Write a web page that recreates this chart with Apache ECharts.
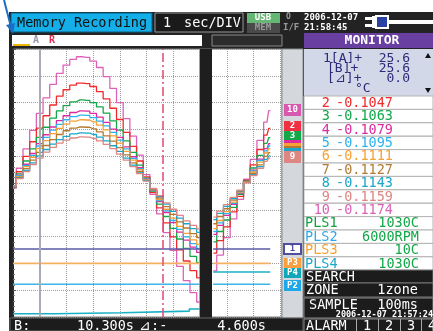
<!DOCTYPE html>
<html>
<head>
<meta charset="utf-8">
<script src="https://cdn.jsdelivr.net/npm/echarts@6/dist/echarts.min.js"></script>
<style>
  html, body { margin: 0; padding: 0; background: #fff; }
  /* dark instrument frame behind the transparent chart canvas */
  #frame { position: absolute; left: 9px; top: 12px; width: 424px; height: 319px; background: #232323; }
  #chart { position: absolute; left: 0; top: 0; width: 433px; height: 331px; }
</style>
</head>
<body>
<div id="frame"></div>
<div id="chart"></div>
<script>
// time in divisions (1 sec/DIV) for the two waveform windows
var timeLeft = [0, 0.25, 0.5, 0.75, 1, 1.25, 1.5, 1.75, 2, 2.25, 2.5, 2.75, 3, 3.25, 3.5,
  3.75, 4, 4.25, 4.5, 4.75, 5, 5.25, 5.5, 5.75, 6, 6.25, 6.5, 6.75, 7];
var timeRight = [0.5, 0.75, 1, 1.25, 1.5, 1.75, 2, 2.25, 2.5, 2.625];

// analog channels, values in divisions from the bottom of the screen
var ch10Left = [4.81, 5.55, 6.27, 6.96, 7.60, 8.18, 8.68, 9.09, 9.40, 9.61, 9.71, 9.69, 9.55, 9.31, 8.97, 8.53, 8.00, 7.40, 6.75, 6.04, 5.31, 4.58, 3.85, 3.15, 2.49, 1.89, 1.36, 0.91, 0.56];
var ch2Left = [4.84, 5.42, 5.99, 6.54, 7.05, 7.51, 7.91, 8.24, 8.48, 8.65, 8.73, 8.71, 8.60, 8.41, 8.14, 7.79, 7.37, 6.89, 6.37, 5.82, 5.23, 4.65, 4.07, 3.51, 2.99, 2.51, 2.09, 1.73, 1.46];
var ch3Left = [4.85, 5.34, 5.82, 6.27, 6.70, 7.08, 7.42, 7.69, 7.89, 8.03, 8.10, 8.08, 8.00, 7.84, 7.61, 7.32, 6.97, 6.57, 6.14, 5.67, 5.18, 4.70, 4.21, 3.75, 3.31, 2.91, 2.56, 2.26, 2.03];
var ch4Left = [4.86, 5.29, 5.70, 6.10, 6.47, 6.80, 7.09, 7.33, 7.51, 7.63, 7.69, 7.68, 7.60, 7.46, 7.26, 7.01, 6.70, 6.35, 5.98, 5.57, 5.15, 4.73, 4.31, 3.90, 3.52, 3.17, 2.87, 2.61, 2.41];
var ch5Left = [4.87, 5.27, 5.66, 6.03, 6.38, 6.70, 6.97, 7.19, 7.36, 7.48, 7.53, 7.52, 7.44, 7.31, 7.13, 6.89, 6.60, 6.27, 5.92, 5.54, 5.14, 4.74, 4.34, 3.96, 3.60, 3.27, 2.99, 2.74, 2.55];
var ch6Left = [4.87, 5.24, 5.61, 5.96, 6.29, 6.58, 6.84, 7.04, 7.20, 7.31, 7.36, 7.35, 7.28, 7.16, 6.98, 6.76, 6.49, 6.18, 5.85, 5.50, 5.12, 4.75, 4.38, 4.02, 3.69, 3.38, 3.12, 2.88, 2.71];
var ch7Left = [4.88, 5.21, 5.54, 5.85, 6.14, 6.40, 6.62, 6.81, 6.95, 7.05, 7.09, 7.08, 7.02, 6.91, 6.76, 6.56, 6.32, 6.05, 5.75, 5.43, 5.10, 4.77, 4.44, 4.12, 3.83, 3.55, 3.32, 3.11, 2.96];
var ch8Left = [4.88, 5.18, 5.47, 5.75, 6.01, 6.25, 6.45, 6.62, 6.74, 6.83, 6.87, 6.86, 6.81, 6.71, 6.57, 6.39, 6.18, 5.93, 5.67, 5.38, 5.09, 4.79, 4.49, 4.21, 3.94, 3.69, 3.48, 3.30, 3.16];
var ch9Left = [4.89, 5.16, 5.43, 5.69, 5.93, 6.15, 6.33, 6.49, 6.60, 6.68, 6.72, 6.71, 6.66, 6.57, 6.44, 6.28, 6.08, 5.85, 5.61, 5.35, 5.07, 4.80, 4.53, 4.26, 4.02, 3.79, 3.59, 3.42, 3.29];

var ch10Right = [1.72, 2.31, 2.96, 3.66, 4.39, 5.14, 5.88, 6.59, 7.27, 7.70];
var ch2Right = [2.38, 2.85, 3.36, 3.92, 4.50, 5.10, 5.68, 6.25, 6.79, 7.04];
var ch3Right = [2.80, 3.19, 3.62, 4.09, 4.58, 5.07, 5.56, 6.03, 6.48, 6.69];
var ch4Right = [3.08, 3.42, 3.79, 4.20, 4.62, 5.05, 5.48, 5.89, 6.28, 6.47];
var ch5Right = [3.19, 3.51, 3.86, 4.24, 4.64, 5.04, 5.45, 5.84, 6.20, 6.38];
var ch6Right = [3.30, 3.60, 3.93, 4.29, 4.66, 5.04, 5.41, 5.78, 6.12, 6.28];
var ch7Right = [3.48, 3.75, 4.04, 4.36, 4.69, 5.03, 5.36, 5.68, 5.99, 6.13];
var ch8Right = [3.63, 3.87, 4.13, 4.42, 4.71, 5.02, 5.31, 5.61, 5.88, 6.01];
var ch9Right = [3.73, 3.95, 4.19, 4.46, 4.73, 5.01, 5.28, 5.55, 5.81, 5.93];

// pulse channels
var pulse1Level = 2.54;
var pulse3Level = 2.0;
var pulse2Level = 1.22;
var pulse4Time = [0, 1.57, 4.08, 6.6, 7];
var pulse4Left = [0.12, 0.16, 0.22, 0.3, 0.3];
var pulse4Right = 1.68;

// cursors A / B
var cursorA = 1.0;
var cursorB = 5.62;

// monitor panel texts
var monitorCh = ['2', '3', '4', '5', '6', '7', '8', '9', '10'];
var monitorVal = ['-0.1047', '-0.1063', '-0.1079', '-0.1095', '-0.1111', '-0.1127', '-0.1143', '-0.1159', '-0.1174'];
var pulseNames = ['PLS1', 'PLS2', 'PLS3', 'PLS4'];
var pulseVals = ['1030C', '6000RPM', '10C', '1030C'];

var chColors = {
  '2': '#f02a2a', '3': '#12a84a', '4': '#dc2aa0', '5': '#2eb2ee', '6': '#f7a035',
  '7': '#b47a32', '8': '#1aa6c8', '9': '#de8682', '10': '#dc62b8'
};
var pulseColors = ['#10a040', '#30a8e8', '#f8a030', '#1aa8c8'];

var MONO = '"DejaVu Sans Mono", monospace';

function pairs(xs, ys) {
  return xs.map(function (x, i) { return [x, ys[i]]; });
}

var channels = [
  ['10', ch10Left, ch10Right], ['2', ch2Left, ch2Right], ['3', ch3Left, ch3Right],
  ['4', ch4Left, ch4Right], ['5', ch5Left, ch5Right], ['6', ch6Left, ch6Right],
  ['7', ch7Left, ch7Right], ['8', ch8Left, ch8Right], ['9', ch9Left, ch9Right]
];

var series = [];
channels.forEach(function (c) {
  var color = chColors[c[0]];
  series.push({ type: 'line', xAxisIndex: 0, yAxisIndex: 0, step: 'middle', symbol: 'none',
    silent: true, lineStyle: { color: color, width: 1.3 }, data: pairs(timeLeft, c[1]) });
  series.push({ type: 'line', xAxisIndex: 1, yAxisIndex: 1, step: 'middle', symbol: 'none',
    silent: true, lineStyle: { color: color, width: 1.3 }, data: pairs(timeRight, c[2]) });
});

// horizontal pulse traces
function flat(axis, x0, x1, v, color) {
  series.push({ type: 'line', xAxisIndex: axis, yAxisIndex: axis, symbol: 'none', silent: true,
    lineStyle: { color: color, width: 1.6 }, data: [[x0, v], [x1, v]] });
}
flat(0, 0, 7, pulse1Level, '#5a5aa8');
flat(0, 0, 7, pulse3Level, '#f6b062');
flat(0, 0, 7, pulse2Level, '#3cb6e6');
flat(1, 0.49, 2.62, pulse1Level, '#5a5aa8');
flat(1, 0.49, 2.62, pulse3Level, '#f6b062');
flat(1, 0.49, 2.62, pulse2Level, '#3cb6e6');
flat(1, 0.49, 2.62, pulse4Right, '#18b0c4');
series.push({ type: 'line', xAxisIndex: 0, yAxisIndex: 0, step: 'end', symbol: 'none', silent: true,
  lineStyle: { color: '#18b0c4', width: 1.6 }, data: pairs(pulse4Time, pulse4Left) });

// cursor lines
series.push({ type: 'line', xAxisIndex: 0, yAxisIndex: 0, data: [], silent: true,
  markLine: { symbol: 'none', silent: true, label: { show: false },
    data: [
      { xAxis: cursorA, lineStyle: { color: '#a8acb2', width: 2, type: 'solid' } },
      { xAxis: cursorB, lineStyle: { color: '#e04a72', width: 1.5, type: [9, 3, 2, 3] } }
    ] } });

function valueAxis(grid, min, max, isY) {
  return {
    type: 'value', gridIndex: grid, min: min, max: max, interval: 1,
    axisLabel: { show: false },
    axisTick: { show: false },
    axisLine: { show: false },
    splitLine: { show: true, lineStyle: { color: '#9c9c9c', type: 'dotted', width: 1 } }
  };
}

var yLeft = valueAxis(0, 0, 10, true);
yLeft.axisLine = { show: true, lineStyle: { color: '#2a2a2a', width: 2 } };
yLeft.axisTick = { show: true, inside: true, length: 3, lineStyle: { color: '#555' } };
yLeft.minorTick = { show: true, splitNumber: 5, length: 2, lineStyle: { color: '#777' } };

// ---------- graphic overlay: the instrument screen around the plots ----------
var g = [];
function box(x, y, w, h, fill, stroke, lw, z) {
  g.push({ type: 'rect', z: z || 100, silent: true, shape: { x: x, y: y, width: w, height: h },
    style: { fill: fill, stroke: stroke || null, lineWidth: lw || 1 } });
}
function txt(x, y, s, color, size, align, weight) {
  g.push({ type: 'text', z: 110, silent: true, x: x, y: y,
    style: { text: s, fill: color, font: (weight || 'normal') + ' ' + size + 'px ' + MONO,
      textAlign: align || 'left', textVerticalAlign: 'middle' } });
}

// annotation arrow
g.push({ type: 'polyline', z: 120, silent: true, shape: { points: [[4, 0], [11, 27]] },
  style: { stroke: '#1c6fc4', lineWidth: 2 } });
g.push({ type: 'polygon', z: 120, silent: true, shape: { points: [[13, 34], [6, 25], [15, 23]] },
  style: { fill: '#1c6fc4' } });

// top status bar
box(11, 13, 141, 19, '#14aee8', '#0b5c84');
txt(17, 23, 'Memory Recording', '#111', 13.5);
box(155, 13, 88, 19, '#1a1a1a', '#9a9a9a');
txt(163, 23, '1', '#fff', 13.5);
txt(241, 23, 'sec/DIV', '#fff', 13.5, 'right');
box(247, 13, 33, 10, '#66b676');
txt(263, 18, 'USB', '#fff', 9, 'center', 'bold');
box(247, 23, 33, 10, '#4a4a4a');
txt(263, 28, 'MEM', '#9a9a9a', 9, 'center', 'bold');
txt(286, 17, 'O', '#9a9a9a', 8, 'left', 'bold');
txt(283, 28, 'I/F', '#9a9a9a', 9, 'left', 'bold');
txt(304, 18, '2006-12-07', '#fff', 9, 'left', 'bold');
txt(304, 28, '21:58:45', '#fff', 9, 'left', 'bold');
// plug icon
box(365, 17, 8, 3, '#fff');
box(365, 24, 8, 3, '#fff');
box(372, 16, 4, 12, '#fff');
box(376, 16, 12, 12, '#2a42a4', '#fff', 2);
box(388, 20, 45, 4, '#fff');

// second row: A/B cursor bar and the window header
box(12, 35, 190, 11, '#fff');
box(13, 44, 17, 2, '#f0b400');
txt(33, 40, 'A', '#9a9aae', 10, 'left', 'bold');
txt(49, 40, 'R', '#e0304e', 10, 'left', 'bold');
box(212, 35, 70, 11, '#2b2b2b', '#8a8a8a');

// dark separator between the two windows, marker strip
box(200, 49, 12, 269, '#1e1e1e', null, 1, 60);
box(282, 49, 21, 269, '#d4d8dc', '#8a8a8a', 1, 60);
function marker(y, h, fill, s, stroke) {
  box(284, y, 17, h, fill, stroke || null, stroke ? 2 : 1, 100);
  if (s) txt(292.5, y + h / 2, s, stroke ? '#4a4a9a' : '#fff', 9, 'center', 'bold');
}
marker(104, 12, '#d858b0', '10');
marker(121, 10, '#f03040', '2');
marker(131, 9, '#12a848', '3');
marker(140, 3, '#dc2aa0');
marker(143, 3, '#f7a035');
marker(146, 2, '#b47a32');
marker(148, 3, '#1aa6c8');
marker(151, 12, '#de8682', '9');
marker(244, 10, '#fff', '1', '#5050a0');
marker(258, 10, '#f6a040', 'P3');
marker(268, 10, '#10a8b8', 'P4');
marker(280, 11, '#1ea8e8', 'P2');

// right side monitor panel
box(304, 33, 129, 15, '#6a3fa2');
txt(372, 41, 'MONITOR', '#fff', 13, 'center', 'bold');
box(304, 49, 129, 47, '#d2d8e8');
txt(323, 59, '1[A]+', '#2c2c78', 13);
txt(410, 59, '25.6', '#2c2c78', 13, 'right');
txt(327, 69, '[B]+', '#2c2c78', 13);
txt(410, 69, '25.6', '#2c2c78', 13, 'right');
txt(327, 79, '[⊿]+', '#2c2c78', 13);
txt(410, 79, '0.0', '#2c2c78', 13, 'right');
txt(355, 89, '°C', '#2c2c78', 13);
g.push({ type: 'polygon', z: 110, silent: true, shape: { points: [[425, 58], [431, 58], [428, 53]] }, style: { fill: '#111' } });
g.push({ type: 'polygon', z: 110, silent: true, shape: { points: [[425, 88], [431, 88], [428, 93]] }, style: { fill: '#111' } });

var rowH = 13.4;
monitorCh.forEach(function (ch, i) {
  var y = 96 + rowH * i;
  box(304, y, 129, rowH, '#fff', '#b4b4b4');
  txt(330, y + rowH / 2 + 0.5, ch, chColors[ch], 13.5, 'right');
  txt(336, y + rowH / 2 + 0.5, monitorVal[i], chColors[ch], 13.5);
});
pulseNames.forEach(function (p, i) {
  var y = 96 + rowH * (monitorCh.length + i);
  box(304, y, 129, rowH, '#fff', '#b4b4b4');
  txt(305, y + rowH / 2 + 0.5, p, pulseColors[i], 13.5);
  txt(419, y + rowH / 2 + 0.5, pulseVals[i], '#12a848', 13.5, 'right');
});
box(304, 270, 129, 13, '#1c1c1c', '#777');
txt(306, 277, 'SEARCH', '#fff', 13.5);
box(304, 283, 129, 14, '#1c1c1c', '#777');
txt(306, 290, 'ZONE', '#fff', 13.5);
txt(418, 290, '1zone', '#fff', 13.5, 'right');
box(304, 298, 129, 20, '#1c1c1c', '#888');
txt(309, 305, 'SAMPLE', '#fff', 13.5);
txt(418, 305, '100ms', '#fff', 13.5, 'right');
txt(433, 314.5, '2006-12-07 21:57:24', '#fff', 8.5, 'right', 'bold');
box(304, 319, 129, 13, '#1c1c1c', '#888');
txt(306, 326, 'ALARM', '#fff', 13.5);
[356, 378, 400, 421].forEach(function (x, i) {
  box(x, 319, 1, 12, '#aaa');
  txt(x + 11, 326, String(i + 1), '#fff', 13.5, 'center');
});

// cursor readout at the bottom
box(10, 318, 293, 13, '#1c1c1c', '#666');
txt(14, 326, 'B:', '#fff', 13.5);
txt(134, 326, '10.300s', '#fff', 13.5, 'right');
txt(139, 326, '⊿:-', '#fff', 13.5);
txt(266, 326, '4.600s', '#fff', 13.5, 'right');

var chart = echarts.init(document.getElementById('chart'));
chart.setOption({
  backgroundColor: 'transparent',
  animation: false,
  grid: [
    { left: 13, top: 49, width: 187, height: 268, show: true, backgroundColor: '#fff', borderColor: '#808080', borderWidth: 1 },
    { left: 200, top: 49, width: 82, height: 268, show: true, backgroundColor: '#fff', borderColor: '#808080', borderWidth: 1 }
  ],
  xAxis: [valueAxis(0, 0, 7), valueAxis(1, 0, 3.06)],
  yAxis: [yLeft, valueAxis(1, 0, 10, true)],
  series: series,
  graphic: g
});
</script>
</body>
</html>
